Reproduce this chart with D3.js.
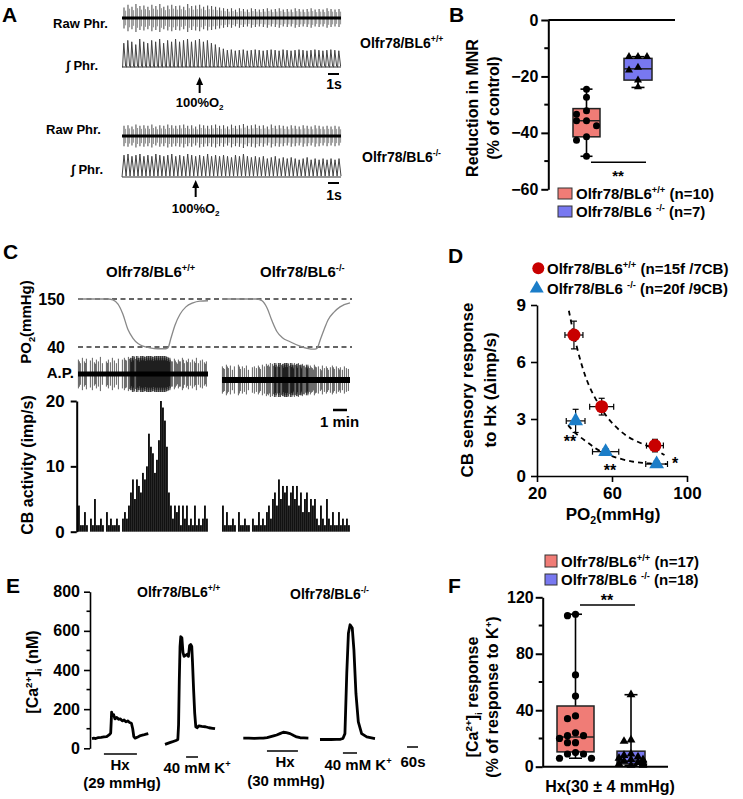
<!DOCTYPE html>
<html><head><meta charset="utf-8">
<script src="https://cdn.jsdelivr.net/npm/d3@7"></script>
<style>
body{margin:0;background:#fff}
svg{display:block;font-family:"Liberation Sans",Arial,Helvetica,sans-serif;font-weight:bold}
</style></head><body>
<svg id="fig" width="743" height="799"></svg>
<script>
// ================= DATA =================
// Panel A: phrenic bursts (relative amplitude, a.u.), one value per breath
const rawPhrWT = [0.75,0.95,0.8,1.0,0.85,0.9,0.8,0.95,0.85,1.0,0.8,0.9,0.95,0.85,0.9,0.8,1.0,0.85,0.9,0.95,0.8,0.9,0.85,0.8,0.75,0.7,0.65,0.7,0.6,0.7,0.65,0.6,0.7,0.65,0.6,0.65,0.7,0.6,0.65,0.7,0.6,0.65,0.6,0.7,0.65,0.6,0.65,0.7,0.6,0.65,0.6,0.7,0.65,0.6,0.65];
const intPhrWT = [0.85,0.95,0.9,0.8,1.0,0.9,0.85,0.95,0.9,1.0,0.85,0.95,0.9,1.0,0.9,0.95,1.0,0.9,0.95,1.0,0.9,0.95,0.85,0.8,0.7,0.65,0.6,0.62,0.58,0.6,0.62,0.58,0.6,0.62,0.6,0.58,0.6,0.62,0.6,0.58,0.62,0.6,0.58,0.6,0.62,0.6,0.58,0.6,0.62,0.6,0.58,0.6,0.62,0.6,0.58];
const rawPhrKO = [0.85,0.9,0.8,0.95,0.85,0.9,0.85,0.95,0.8,0.9,0.85,0.95,0.9,0.85,0.9,0.95,0.85,0.9,0.8,0.95,0.9,0.85,0.9,0.95,0.85,0.9,0.8,0.95,0.85,0.9,1.0,0.85,0.9,0.95,0.85,0.9,0.8,0.95,0.85,0.9,0.85,0.8,0.9,0.85,0.8,0.9,0.85,0.8,0.9,0.85,0.8,0.85,0.8,0.85,0.8];
const intPhrKO = [0.95,1.0,0.9,0.95,1.0,0.9,0.95,0.9,1.0,0.95,0.9,0.95,1.0,0.9,0.95,0.9,1.0,0.95,0.9,0.95,0.9,1.0,0.9,0.95,0.9,0.95,0.9,0.85,0.95,0.9,1.0,0.9,0.85,0.9,0.85,0.9,0.8,0.85,0.9,0.8,0.85,0.8,0.85,0.8,0.75,0.8,0.85,0.75,0.8,0.75,0.8,0.75,0.8,0.75,0.8];
const o2BreathWT = 19, o2BreathKO = 18;  // breath index at which 100% O2 is given

// Panel B: reduction in MNR (% of control)
const groupsB = ["WT", "KO"];
const boxWT_B = [-48.3, -41.4, -35.7, -31.4, -24.5];   // min, q1, median, q3, max
const boxKO_B = [-23.9, -21.3, -17.3, -13.6, -13.0];
const ptsWT_B = [-24.5, -27.4, -32.2, -33.4, -35.7, -35.7, -37.5, -41.4, -42.6, -48.3];
const ptsKO_B = [-13.0, -13.0, -13.0, -16.8, -17.8, -21.3, -23.7];
const ticksB = [0, -20, -40, -60];
const minorB = [-10, -30, -50];

// Panel C: PO2 (mmHg) vs time (min)
const po2TimeWT = [0, 1.07, 2.14, 2.5, 2.86, 3.21, 3.57, 3.93, 4.29, 4.64, 5.14, 5.71, 6.29, 6.43, 6.64, 6.93, 7.29, 7.71, 8.21, 8.71, 9.29];
const po2WT     = [150, 150, 150, 148, 138, 115, 80, 60, 48, 42, 38, 36, 36, 38, 60, 90, 115, 132, 141, 145, 146];
const po2TimeKO = [0, 1.43, 2.5, 2.86, 3.21, 3.57, 3.93, 4.29, 4.86, 5.57, 6.07, 6.64, 6.79, 7.0, 7.29, 7.57, 8.0, 8.43, 9.14];
const po2KO     = [150, 150, 150, 146, 130, 100, 75, 62, 52, 42, 37, 35, 37, 55, 80, 102, 120, 132, 141];
const po2Ticks = [150, 40];
// CB activity (imp/s) per bin
const cbWT = [4,1,1,3,1,0,2,1,5,1,1,2,1,0,3,1,2,1,1,2,1,0,2,3,2,
              4,6,8,5,8,7,6,9,8,10,15,13,12,9,11,14,20,19,17,13,6,
              4,2,4,3,4,1,4,2,4,1,2,1,4,1,2,1,2,4,2];
const cbKO = [4,1,3,1,1,2,1,0,3,1,1,2,1,1,0,2,1,1,3,1,2,1,
              3,4,2,5,6,4,8,5,7,6,7,4,6,7,5,7,4,6,3,5,6,3,5,4,5,
              2,1,4,2,1,5,2,1,3,1,1,3,1,2,1,2,1];
// action-potential spike amplitude (relative) per bin
const apWT = [0.8,0.6,0.9,0.7,0.85,0.6,0.75,0.9,0.65,0.8,0.7,0.95,0.6,0.85,0.7,0.8,0.65,0.9,0.75,0.6,0.85,0.7,0.8,0.9,0.75,0.95,0.9,1,0.95,1,0.9,1,1,0.95,1,1,1,0.95,1,1,1,1,1,1,0.95,0.9,0.8,0.7,0.85,0.65,0.8,0.7,0.9,0.6,0.75,0.85,0.65,0.8,0.7,0.9,0.6,0.75,0.8,0.65,0.7];
const apKO = [0.8,0.65,0.9,0.7,0.85,0.6,0.8,0.75,0.9,0.65,0.8,0.7,0.85,0.6,0.9,0.75,0.8,0.7,0.85,0.65,0.9,0.8,0.95,0.9,1,0.95,1,0.9,1,1,0.95,1,1,0.95,1,0.9,1,0.95,1,0.9,0.95,0.85,0.9,0.8,0.85,0.7,0.9,0.75,0.8,0.65,0.85,0.7,0.8,0.6,0.75,0.85,0.65,0.8,0.7,0.75,0.6,0.8,0.7,0.65];
const cbTicks = [0, 10, 20];

// Panel D: CB sensory response (Δimp/s) vs PO2 (mmHg)
const dPo2WT = [39.7, 54.5, 82.9], dRespWT = [7.42, 3.65, 1.6], dXerrWT = [4.8, 6.4, 4.5], dYerrWT = [0.73, 0.44, 0.33];
const dPo2KO = [40.6, 56.6, 83.8], dRespKO = [2.9, 1.28, 0.63], dXerrKO = [5.0, 7.0, 5.8], dYerrKO = [0.61, 0.15, 0.15];
const fitPo2WT = [37, 40, 44, 48, 54, 60, 68, 76, 82, 88];
const fitWT    = [8.7, 7.3, 5.8, 4.7, 3.6, 2.8, 2.1, 1.7, 1.45, 1.1];
const fitPo2KO = [36.6, 40, 46.5, 53, 60.7, 71.4, 80, 89.2];
const fitKO    = [2.68, 2.3, 1.8, 1.35, 1.02, 0.75, 0.66, 0.63];
const dXTicks = [20, 60, 100], dYTicks = [0, 3, 6, 9];

// Panel E: [Ca2+]i (nM) vs time (s)
const eT1 = [0,10,20,35,50,65,80,95,102,105,107,112,118,125,135,145,155,165,175,185,195,205,215,222,228,235,250,265,280,295,307];
const eC1 = [50,52,50,55,56,58,60,70,78,140,185,165,172,150,158,148,150,140,145,135,140,132,128,100,60,52,58,65,68,72,75];
const eT2 = [0,15,30,45,60,70,74,78,82,86,92,98,104,112,120,128,134,140,146,150,156,162,168,175,185,200,220,240,260,273];
const eC2 = [20,25,30,35,40,45,120,350,520,570,565,490,470,475,480,470,525,530,520,440,300,180,110,105,115,112,110,105,102,100];
const eT3 = [0,30,60,90,109,130,150,170,182,200,218,235,255,275,291,310,330,355];
const eC3 = [52,52,51,52,52,55,60,65,68,75,82,80,75,65,58,54,53,52];
const eT4 = [0,30,60,90,109,125,136,146,155,164,176,185,196,209,227,255,300];
const eC4 = [45,46,45,46,46,50,75,383,588,631,614,503,280,135,75,58,50];
const eStim = [[65,245],[115,180],[129,298],[125,202]];   // stimulus period (s) per trace
const eTicks = [0,200,400,600,800], eMinor = [100,300,500,700];

// Panel F: [Ca2+]i response (% of K+ response)
const boxWT_F = [6, 10.5, 21, 43, 108];
const boxKO_F = [1, 2, 4, 11, 51];
const ptsWT_F = [108,107,65,50,36,34,24,22,22,20,17,17,10,9,9,6,6];
const ptsKO_F = [51,19,18,9,8,7,6,5,5,4,4,3,3,2,2,2,1,1];
const ticksF = [0,40,80,120], minorF = [20,60,100];

// ================= DRAWING =================
const svg = d3.select('#fig');
const FONT = '"Liberation Sans", Arial, Helvetica, sans-serif';
const RED = '#f07c76', BLUE = '#7878f0', DRED = '#c80000', DBLUE = '#1b7dc8';

function rich(parent, x, y, parts, size, anchor = 'start', rot = false) {
  const t = parent.append('text').attr('x', x).attr('y', y).attr('font-size', size)
    .attr('text-anchor', anchor).attr('font-weight', 'bold').attr('fill', '#000');
  if (rot) t.attr('transform', `rotate(-90,${x},${y})`);
  let shift = 0;
  parts.forEach(p => {
    const o = typeof p === 'string' ? {t: p} : p;
    const target = o.s === 'sup' ? -0.4 * size : o.s === 'sub' ? 0.25 * size : 0;
    const ts = t.append('tspan').attr('dy', target - shift).text(o.t);
    if (o.s) ts.attr('font-size', size * 0.62);
    shift = target;
  });
  return t;
}
function styleAxis(g, size, sw = 2) {
  g.attr('font-family', FONT).attr('font-size', size).attr('font-weight', 'bold');
  g.selectAll('text').attr('fill', '#000');
  g.selectAll('line,path').attr('stroke', '#000').attr('stroke-width', sw);
}
function minorTicks(g, scale, vals, x, len, sw = 2) {
  g.selectAll(null).data(vals).enter().append('line')
    .attr('x1', x - len).attr('x2', x).attr('y1', d => scale(d)).attr('y2', d => scale(d))
    .attr('stroke', '#000').attr('stroke-width', sw);
}
function dodge(values, scale, cands, minD) {
  const placed = [];
  return values.map(v => {
    const y = scale(v);
    let off = cands[cands.length - 1];
    for (const c of cands) {
      if (!placed.some(p => Math.abs(p.y - y) < minD && Math.abs(p.x - c) < minD)) { off = c; break; }
    }
    placed.push({x: off, y});
    return {v, y, off};
  });
}
function drawBox(g, cx, w, s, y, fill, capW) {
  g.append('line').attr('x1', cx).attr('x2', cx).attr('y1', y(s[0])).attr('y2', y(s[4])).attr('stroke', '#000').attr('stroke-width', 1.6);
  [s[0], s[4]].forEach(v => g.append('line').attr('x1', cx - capW / 2).attr('x2', cx + capW / 2)
    .attr('y1', y(v)).attr('y2', y(v)).attr('stroke', '#000').attr('stroke-width', 1.6));
  g.append('rect').attr('x', cx - w / 2).attr('width', w).attr('y', y(s[3])).attr('height', y(s[1]) - y(s[3]))
    .attr('fill', fill).attr('stroke', '#222').attr('stroke-width', 1.5);
  g.append('line').attr('x1', cx - w / 2).attr('x2', cx + w / 2).attr('y1', y(s[2])).attr('y2', y(s[2])).attr('stroke', '#222').attr('stroke-width', 1.5);
}
function letter(x, y, t) { svg.append('text').attr('x', x).attr('y', y).attr('font-size', 21).attr('font-weight', 'bold').text(t); }

// ---------- Panel A ----------
const gA = svg.append('g');
letter(2, 22, 'A');
function drawPhr(raw, integ, rawC, rawAmp, intBase, intH, o2i, wave) {
  const x = d3.scaleLinear().domain([0, raw.length - 1]).range([124, 339]);
  const yR = d3.scaleLinear().domain([-1, 1]).range([rawC + rawAmp, rawC - rawAmp]);
  raw.forEach((a, i) => {
    gA.append('line').attr('x1', x(i)).attr('x2', x(i)).attr('y1', yR(-a)).attr('y2', yR(a)).attr('stroke', '#555').attr('stroke-width', 1.1);
    gA.append('line').attr('x1', x(i) + 1.6).attr('x2', x(i) + 1.6).attr('y1', yR(-a * 0.7)).attr('y2', yR(a * 0.7)).attr('stroke', '#888').attr('stroke-width', 0.9);
  });
  gA.append('line').attr('x1', 122).attr('x2', 341).attr('y1', rawC).attr('y2', rawC).attr('stroke', '#000').attr('stroke-width', 3);
  const yI = d3.scaleLinear().domain([0, 1]).range([intBase, intBase - intH]);
  const pts = [[122, yI(0)]];
  integ.forEach((a, i) => {
    if (wave) { pts.push([x(i) - 1.9, yI(0.04)], [x(i), yI(a)]); }
    else { pts.push([x(i) - 1.4, yI(0)], [x(i) - 0.2, yI(a)], [x(i) + 1.6, yI(0.03)]); }
  });
  pts.push([341, yI(0.04)]);
  gA.append('path').attr('d', d3.line()(pts)).attr('fill', 'none').attr('stroke', '#444').attr('stroke-width', 1);
  gA.append('line').attr('x1', 122).attr('x2', 341).attr('y1', intBase).attr('y2', intBase).attr('stroke', '#333').attr('stroke-width', 1.2);
  return x(o2i);
}
const arrX1 = drawPhr(rawPhrWT, intPhrWT, 18, 14, 67, 28, o2BreathWT, false);
const arrX2 = drawPhr(rawPhrKO, intPhrKO, 136, 12, 177, 23, o2BreathKO, true);
rich(gA, 108, 28, ['Raw Phr.'], 13, 'end');
rich(gA, 98, 70, ['\u222B Phr.'], 13, 'end');
rich(gA, 101, 134, ['Raw Phr.'], 13, 'end');
rich(gA, 103, 174, ['\u222B Phr.'], 13, 'end');
[[arrX1, 77, 93, 107], [arrX2, 180, 197, 213]].forEach(([ax, tip, tail, ty]) => {
  gA.append('line').attr('x1', ax).attr('x2', ax).attr('y1', tail).attr('y2', tip + 5).attr('stroke', '#000').attr('stroke-width', 2);
  gA.append('path').attr('d', `M${ax - 3.5},${tip + 8} L${ax},${tip} L${ax + 3.5},${tip + 8} Z`).attr('fill', '#000');
  rich(gA, ax, ty, ['100%O', {t: '2', s: 'sub'}], 13, 'middle');
});
[[74, 89], [183, 200]].forEach(([by, ty]) => {
  gA.append('line').attr('x1', 328).attr('x2', 339).attr('y1', by).attr('y2', by).attr('stroke', '#000').attr('stroke-width', 2);
  rich(gA, 334, ty, ['1s'], 14, 'middle');
});
rich(gA, 360, 48, ['Olfr78/BL6', {t: '+/+', s: 'sup'}], 14);
rich(gA, 362, 162, ['Olfr78/BL6', {t: '-/-', s: 'sup'}], 14);

// ---------- Panel B ----------
const gB = svg.append('g');
letter(449, 22, 'B');
const yB = d3.scaleLinear().domain([-60, 0]).range([189.3, 20]);
const xB = d3.scalePoint().domain(groupsB).range([586.5, 638]);
const axB = gB.append('g').attr('transform', 'translate(548.3,0)').call(d3.axisLeft(yB).tickValues(ticksB).tickSize(7).tickSizeOuter(0).tickPadding(3));
styleAxis(axB, 16);
minorTicks(gB, yB, minorB, 548.3, 4);
gB.append('line').attr('x1', 548.3).attr('x2', 675).attr('y1', yB(0)).attr('y2', yB(0)).attr('stroke', '#000').attr('stroke-width', 2);
drawBox(gB, xB('WT'), 27, boxWT_B, yB, RED, 12);
drawBox(gB, xB('KO'), 28, boxKO_B, yB, BLUE, 13);
dodge(ptsWT_B, yB, [0, -5, 5, -10, 10], 6).forEach(p =>
  gB.append('circle').attr('cx', xB('WT') + p.off).attr('cy', p.y).attr('r', 3.5).attr('fill', '#000'));
dodge(ptsKO_B, yB, [0, -9, 9, -4, 4], 6).forEach(p =>
  gB.append('path').attr('transform', `translate(${xB('KO') + p.off},${p.y})`).attr('d', d3.symbol(d3.symbolTriangle, 28)()).attr('fill', '#000'));
gB.append('line').attr('x1', 591).attr('x2', 646).attr('y1', 162.3).attr('y2', 162.3).attr('stroke', '#000').attr('stroke-width', 1.6);
rich(gB, 618, 181, ['**'], 15, 'middle');
rich(gB, 478, 108, ['Reduction in MNR'], 16, 'middle', true);
rich(gB, 499, 108, ['(% of control)'], 16, 'middle', true);
gB.append('rect').attr('x', 558).attr('y', 188).attr('width', 14).attr('height', 11).attr('fill', RED).attr('stroke', '#333');
gB.append('rect').attr('x', 558).attr('y', 206).attr('width', 14).attr('height', 11).attr('fill', BLUE).attr('stroke', '#333');
rich(gB, 576, 199, ['Olfr78/BL6', {t: '+/+', s: 'sup'}, ' (n=10)'], 15);
rich(gB, 576, 217, ['Olfr78/BL6 ', {t: '-/-', s: 'sup'}, ' (n=7)'], 15);

// ---------- Panel C ----------
const gC = svg.append('g');
letter(3, 259, 'C');
rich(gC, 106, 277, ['Olfr78/BL6', {t: '+/+', s: 'sup'}], 15);
rich(gC, 260, 277, ['Olfr78/BL6', {t: '-/-', s: 'sup'}], 15);
const yPO2 = d3.scaleLinear().domain([40, 150]).range([347, 299]);
po2Ticks.forEach(v => {
  gC.append('line').attr('x1', 78).attr('x2', 352).attr('y1', yPO2(v)).attr('y2', yPO2(v))
    .attr('stroke', '#333').attr('stroke-width', 1.4).attr('stroke-dasharray', '5,3.5');
  rich(gC, 65, yPO2(v) + 6, [String(v)], 16, 'end');
});
rich(gC, 31, 322, ['PO', {t: '2', s: 'sub'}, '(mmHg)'], 15, 'middle', true);
const segs = [
  {t: po2TimeWT, v: po2WT, x0: 78, x1: 208, cb: cbWT, ap: apWT, apC: 374, apA: 18, band: 5},
  {t: po2TimeKO, v: po2KO, x0: 222, x1: 350, cb: cbKO, ap: apKO, apC: 380, apA: 17, band: 6}
];
const yCB = d3.scaleLinear().domain([0, 20]).range([531.7, 401]);
segs.forEach(s => {
  const xt = d3.scaleLinear().domain([0, s.t[s.t.length - 1]]).range([s.x0, s.x1]);
  gC.append('path').attr('d', d3.line().curve(d3.curveMonotoneX).x((d, i) => xt(d)).y((d, i) => yPO2(s.v[i]))(s.t))
    .attr('fill', 'none').attr('stroke', '#888').attr('stroke-width', 1.3);
  const xb = d3.scaleLinear().domain([0, s.cb.length]).range([s.x0, s.x1]);
  const yAP = d3.scaleLinear().domain([-1, 1]).range([s.apC + s.apA, s.apC - s.apA]);
  s.cb.forEach((c, i) => {
    const n = c === 0 ? 0 : c < 3 ? 1 : c < 6 ? 2 : 4;
    for (let j = 0; j < n; j++) {
      const xx = xb(i) + 0.4 + j * 2 / n;
      const a = s.ap[i] * (1 - 0.12 * (j % 3));
      gC.append('line').attr('x1', xx).attr('x2', xx).attr('y1', yAP(-a)).attr('y2', yAP(a))
        .attr('stroke', '#111').attr('stroke-opacity', n > 2 ? 0.85 : 0.65).attr('stroke-width', 1);
    }
    gC.append('rect').attr('x', xb(i)).attr('width', 1.9).attr('y', yCB(c)).attr('height', yCB(0) - yCB(c)).attr('fill', '#111');
  });
  gC.append('line').attr('x1', s.x0).attr('x2', s.x1).attr('y1', s.apC).attr('y2', s.apC).attr('stroke', '#000').attr('stroke-width', s.band);
});
rich(gC, 74, 378, ['A.P.'], 15, 'end');
const axC = gC.append('g').attr('transform', 'translate(76.7,0)').call(d3.axisLeft(yCB).tickValues(cbTicks).tickSize(6).tickSizeOuter(0).tickPadding(6));
styleAxis(axC, 17);
rich(gC, 33, 465, ['CB activity (imp/s)'], 16, 'middle', true);
gC.append('line').attr('x1', 333).attr('x2', 347).attr('y1', 410).attr('y2', 410).attr('stroke', '#000').attr('stroke-width', 2.5);
rich(gC, 320, 427, ['1 min'], 15);

// ---------- Panel D ----------
const gD = svg.append('g');
letter(448, 263, 'D');
const xD = d3.scaleLinear().domain([20, 100]).range([537, 687]);
const yD = d3.scaleLinear().domain([0, 9]).range([476, 305]);
const axDy = gD.append('g').attr('transform', 'translate(537,0)').call(d3.axisLeft(yD).tickValues(dYTicks).tickSize(6).tickSizeOuter(0).tickPadding(5));
styleAxis(axDy, 17, 1.6);
const axDx = gD.append('g').attr('transform', 'translate(0,476)').call(d3.axisBottom(xD).tickValues(dXTicks).tickSize(6).tickSizeOuter(0).tickPadding(5));
styleAxis(axDx, 17, 1.6);
[[fitPo2WT, fitWT], [fitPo2KO, fitKO]].forEach(([xs, ys]) => {
  gD.append('path').attr('d', d3.line().curve(d3.curveCatmullRom).x(d => xD(d)).y((d, i) => yD(ys[i]))(xs))
    .attr('fill', 'none').attr('stroke', '#000').attr('stroke-width', 1.8).attr('stroke-dasharray', '5,4');
});
function errBars(xs, ys, xe, ye) {
  xs.forEach((v, i) => {
    const cx = xD(v), cy = yD(ys[i]);
    const x1 = xD(v - xe[i]), x2 = xD(v + xe[i]), y1 = yD(ys[i] - ye[i]), y2 = yD(ys[i] + ye[i]);
    const st = l => l.attr('stroke', '#000').attr('stroke-width', 1.2);
    st(gD.append('line').attr('x1', x1).attr('x2', x2).attr('y1', cy).attr('y2', cy));
    st(gD.append('line').attr('x1', x1).attr('x2', x1).attr('y1', cy - 3).attr('y2', cy + 3));
    st(gD.append('line').attr('x1', x2).attr('x2', x2).attr('y1', cy - 3).attr('y2', cy + 3));
    st(gD.append('line').attr('x1', cx).attr('x2', cx).attr('y1', y1).attr('y2', y2));
    st(gD.append('line').attr('x1', cx - 3).attr('x2', cx + 3).attr('y1', y1).attr('y2', y1));
    st(gD.append('line').attr('x1', cx - 3).attr('x2', cx + 3).attr('y1', y2).attr('y2', y2));
  });
}
errBars(dPo2WT, dRespWT, dXerrWT, dYerrWT);
errBars(dPo2KO, dRespKO, dXerrKO, dYerrKO);
dPo2WT.forEach((v, i) => gD.append('circle').attr('cx', xD(v)).attr('cy', yD(dRespWT[i])).attr('r', 6.5).attr('fill', DRED));
dPo2KO.forEach((v, i) => gD.append('path').attr('transform', `translate(${xD(v)},${yD(dRespKO[i])})`).attr('d', d3.symbol(d3.symbolTriangle, 95)()).attr('fill', DBLUE));
rich(gD, 570, 447, ['**'], 16, 'middle');
rich(gD, 610, 476, ['**'], 16, 'middle');
rich(gD, 675, 469, ['*'], 16, 'middle');
gD.append('circle').attr('cx', 538.3).attr('cy', 268.3).attr('r', 6).attr('fill', DRED);
gD.append('path').attr('transform', 'translate(536.7,288.5)').attr('d', d3.symbol(d3.symbolTriangle, 85)()).attr('fill', DBLUE);
rich(gD, 547, 274, ['Olfr78/BL6', {t: '+/+', s: 'sup'}, ' (n=15f /7CB)'], 15);
rich(gD, 547, 294, ['Olfr78/BL6 ', {t: '-/-', s: 'sup'}, ' (n=20f /9CB)'], 15);
rich(gD, 613, 520, ['PO', {t: '2', s: 'sub'}, '(mmHg)'], 17, 'middle');
rich(gD, 473, 390, ['CB sensory response'], 17, 'middle', true);
rich(gD, 496, 390, ['to Hx (\u0394imp/s)'], 17, 'middle', true);

// ---------- Panel E ----------
const gE = svg.append('g');
letter(6, 593, 'E');
const yE = d3.scaleLinear().domain([0, 800]).range([748.3, 591.7]);
const sE = d3.scaleLinear().domain([0, 60]).range([0, 11]);
const axE = gE.append('g').attr('transform', 'translate(90,0)').call(d3.axisLeft(yE).tickValues(eTicks).tickSize(6).tickSizeOuter(0).tickPadding(4));
styleAxis(axE, 16, 1.6);
minorTicks(gE, yE, eMinor, 90, 3.5, 1.6);
rich(gE, 38, 672, ['[Ca', {t: '2+', s: 'sup'}, ']', {t: 'i', s: 'sub'}, '  (nM)'], 16, 'middle', true);
rich(gE, 137, 597, ['Olfr78/BL6', {t: '+/+', s: 'sup'}], 14);
rich(gE, 290, 599, ['Olfr78/BL6', {t: '-/-', s: 'sup'}], 14);
const eTraces = [
  {t: eT1, c: eC1, x0: 92, stim: eStim[0], sy: 754},
  {t: eT2, c: eC2, x0: 165, stim: eStim[1], sy: 757},
  {t: eT3, c: eC3, x0: 243.3, stim: eStim[2], sy: 751},
  {t: eT4, c: eC4, x0: 320, stim: eStim[3], sy: 753}
];
eTraces.forEach(tr => {
  gE.append('path').attr('d', d3.line().x(d => tr.x0 + sE(d)).y((d, i) => yE(tr.c[i]))(tr.t))
    .attr('fill', 'none').attr('stroke', '#000').attr('stroke-width', 2.8).attr('stroke-linejoin', 'round');
  gE.append('line').attr('x1', tr.x0 + sE(tr.stim[0])).attr('x2', tr.x0 + sE(tr.stim[1])).attr('y1', tr.sy).attr('y2', tr.sy)
    .attr('stroke', '#000').attr('stroke-width', 1.5);
});
gE.append('line').attr('x1', 407).attr('x2', 407 + sE(60)).attr('y1', 747).attr('y2', 747).attr('stroke', '#000').attr('stroke-width', 1.5);
rich(gE, 120, 770, ['Hx'], 15, 'middle');
rich(gE, 122, 788, ['(29 mmHg)'], 15, 'middle');
rich(gE, 197, 773, ['40 mM K', {t: '+', s: 'sup'}], 15, 'middle');
rich(gE, 285, 767, ['Hx'], 15, 'middle');
rich(gE, 286, 786, ['(30 mmHg)'], 15, 'middle');
rich(gE, 358, 770, ['40 mM K', {t: '+', s: 'sup'}], 15, 'middle');
rich(gE, 413, 767, ['60s'], 15, 'middle');

// ---------- Panel F ----------
const gF = svg.append('g');
letter(448, 593, 'F');
const yF = d3.scaleLinear().domain([0, 120]).range([766.7, 597.3]);
const axF = gF.append('g').attr('transform', 'translate(542.7,0)').call(d3.axisLeft(yF).tickValues(ticksF).tickSize(7).tickSizeOuter(0).tickPadding(2));
styleAxis(axF, 16);
minorTicks(gF, yF, minorF, 542.7, 4);
gF.append('line').attr('x1', 542.7).attr('x2', 668).attr('y1', yF(0)).attr('y2', yF(0)).attr('stroke', '#000').attr('stroke-width', 2);
const cxF = [575.5, 631];
drawBox(gF, cxF[0], 37, boxWT_F, yF, RED, 13);
drawBox(gF, cxF[1], 28, boxKO_F, yF, BLUE, 13);
dodge(ptsWT_F, yF, [0, -8, 8, -16, 16], 6.5).forEach(p =>
  gF.append('circle').attr('cx', cxF[0] + p.off).attr('cy', p.y).attr('r', 3.6).attr('fill', '#000'));
dodge(ptsKO_F, yF, [0, -7, 7, -12, 12], 5).forEach(p =>
  gF.append('path').attr('transform', `translate(${cxF[1] + p.off},${p.y})`).attr('d', d3.symbol(d3.symbolTriangle, 34)()).attr('fill', '#000'));
gF.append('line').attr('x1', 580).attr('x2', 635).attr('y1', 605).attr('y2', 605).attr('stroke', '#000').attr('stroke-width', 1.6);
rich(gF, 607, 606, ['**'], 16, 'middle');
rich(gF, 610, 792, ['Hx(30 \u00B1 4 mmHg)'], 16, 'middle');
rich(gF, 478, 697, ['[Ca', {t: '2+', s: 'sup'}, ']', {t: 'i', s: 'sub'}, '  response'], 16, 'middle', true);
rich(gF, 498, 697, ['(% of response to K', {t: '+', s: 'sup'}, ')'], 16, 'middle', true);
gF.append('rect').attr('x', 545).attr('y', 555).attr('width', 12).attr('height', 12).attr('fill', RED).attr('stroke', '#333');
gF.append('rect').attr('x', 545).attr('y', 574).attr('width', 12).attr('height', 11).attr('fill', BLUE).attr('stroke', '#333');
rich(gF, 561, 567, ['Olfr78/BL6', {t: '+/+', s: 'sup'}, ' (n=17)'], 15);
rich(gF, 561, 585, ['Olfr78/BL6 ', {t: '-/-', s: 'sup'}, ' (n=18)'], 15);
</script>
</body></html>
